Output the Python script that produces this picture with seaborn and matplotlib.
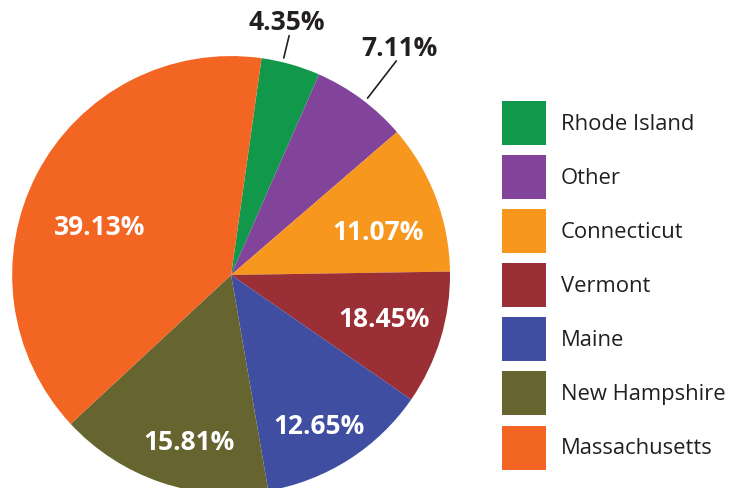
import matplotlib
matplotlib.use('Agg')
import matplotlib.pyplot as plt
import seaborn as sns
import numpy as np

# legend / slice order (clockwise from the top)
states = ['Rhode Island', 'Other', 'Connecticut', 'Vermont', 'Maine',
          'New Hampshire', 'Massachusetts']
# slice sizes as drawn (the Vermont wedge is ~9.9% wide although its label says 18.45%)
shares = [4.35, 7.11, 11.07, 9.88, 12.65, 15.81, 39.13]
pct_labels = ['4.35%', '7.11%', '11.07%', '18.45%', '12.65%', '15.81%', '39.13%']
colors = ['#11984a', '#82449a', '#f7971e', '#9a2f35', '#3f4ea0',
          '#67652f', '#f26522']

# label placement: radius and angle nudge from the wedge middle
label_r = [1.18, 1.29, 0.70, 0.73, 0.80, 0.79, 0.64]
label_shift = [3.3, -0.1, -4.7, 0.7, -2.4, 4.7, 7.9]
outside = [True, True, False, False, False, False, False]

sns.set_theme(style='white')
plt.rcParams['font.family'] = ['Open Sans', 'DejaVu Sans']

dark = '#231f20'

fig = plt.figure(figsize=(7.35, 4.88), dpi=100)
ax = fig.add_axes([0, 0, 1, 1])

wedges, _ = ax.pie(shares, colors=colors, startangle=82, counterclock=False,
                   radius=1, wedgeprops=dict(linewidth=0))

for w, txt, r, sh, out in zip(wedges, pct_labels, label_r, label_shift, outside):
    mid = (w.theta1 + w.theta2) / 2 + sh
    a = np.deg2rad(mid)
    ax.text(r * np.cos(a), r * np.sin(a), txt, ha='center', va='center',
            fontsize=19, fontweight='bold',
            color=dark if out else 'white')
    if out:
        # leader line from the rim out toward the label
        b = np.deg2rad(mid - 1.1)
        ax.plot([1.02 * np.cos(b), (r - 0.055) * np.cos(b)],
                [1.02 * np.sin(b), (r - 0.055) * np.sin(b)],
                color=dark, lw=1.2)

ax.set_xlim(-1.055, 2.301)
ax.set_ylim(-0.973, 1.256)
ax.set_aspect('equal')
ax.axis('off')

ax.legend(wedges, states, loc='upper left',
          bbox_to_anchor=(502 / 735, 1 - 101 / 488),
          bbox_transform=fig.transFigure, frameon=False,
          fontsize=15.8, labelcolor=dark,
          handlelength=2.0, handleheight=2.708, handletextpad=0.68,
          labelspacing=0.46, borderpad=0, borderaxespad=0)

fig.savefig('out.png', dpi=100)
